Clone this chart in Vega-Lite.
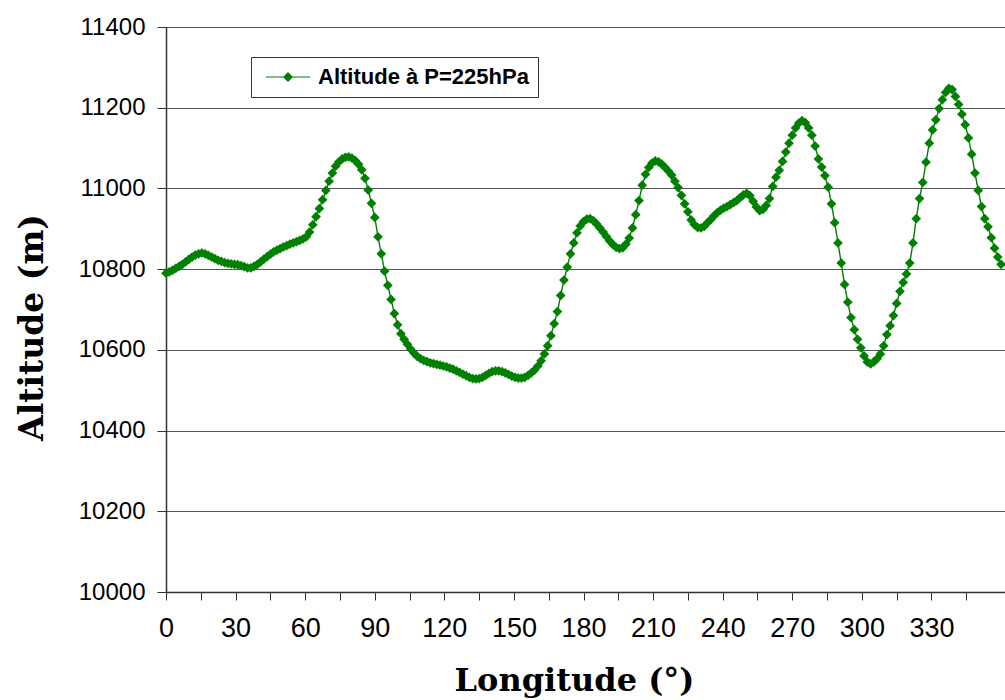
{
  "$schema": "https://vega.github.io/schema/vega-lite/v6.json",
  "width": 839,
  "height": 565,
  "autosize": {"type": "none"},
  "padding": {"left": 166, "top": 27, "right": 0, "bottom": 108},
  "background": "white",
  "config": {"view": {"stroke": null}},
  "data": {"values": [
    {"lon":0,"alt":10790},{"lon":1.40625,"alt":10793},{"lon":2.8125,"alt":10797},{"lon":4.21875,"alt":10802},{"lon":5.625,"alt":10807},{"lon":7.03125,"alt":10812},{"lon":8.4375,"alt":10818},{"lon":9.84375,"alt":10824},
    {"lon":11.25,"alt":10830},{"lon":12.65625,"alt":10835},{"lon":14.0625,"alt":10838},{"lon":15.46875,"alt":10840},{"lon":16.875,"alt":10838},{"lon":18.28125,"alt":10834},{"lon":19.6875,"alt":10830},{"lon":21.09375,"alt":10826},
    {"lon":22.5,"alt":10822},{"lon":23.90625,"alt":10819},{"lon":25.3125,"alt":10816},{"lon":26.71875,"alt":10814},{"lon":28.125,"alt":10813},{"lon":29.53125,"alt":10812},{"lon":30.9375,"alt":10811},{"lon":32.34375,"alt":10809},
    {"lon":33.75,"alt":10806},{"lon":35.15625,"alt":10803},{"lon":36.5625,"alt":10803},{"lon":37.96875,"alt":10807},{"lon":39.375,"alt":10812},{"lon":40.78125,"alt":10818},{"lon":42.1875,"alt":10825},{"lon":43.59375,"alt":10831},
    {"lon":45,"alt":10837},{"lon":46.40625,"alt":10843},{"lon":47.8125,"alt":10847},{"lon":49.21875,"alt":10851},{"lon":50.625,"alt":10855},{"lon":52.03125,"alt":10858},{"lon":53.4375,"alt":10862},{"lon":54.84375,"alt":10865},
    {"lon":56.25,"alt":10868},{"lon":57.65625,"alt":10871},{"lon":59.0625,"alt":10875},{"lon":60.46875,"alt":10880},{"lon":61.875,"alt":10892},{"lon":63.28125,"alt":10910},{"lon":64.6875,"alt":10930},{"lon":66.09375,"alt":10950},
    {"lon":67.5,"alt":10972},{"lon":68.90625,"alt":10995},{"lon":70.3125,"alt":11018},{"lon":71.71875,"alt":11038},{"lon":73.125,"alt":11055},{"lon":74.53125,"alt":11066},{"lon":75.9375,"alt":11073},{"lon":77.34375,"alt":11077},
    {"lon":78.75,"alt":11078},{"lon":80.15625,"alt":11075},{"lon":81.5625,"alt":11069},{"lon":82.96875,"alt":11060},{"lon":84.375,"alt":11046},{"lon":85.78125,"alt":11025},{"lon":87.1875,"alt":10996},{"lon":88.59375,"alt":10963},
    {"lon":90,"alt":10928},{"lon":91.40625,"alt":10880},{"lon":92.8125,"alt":10838},{"lon":94.21875,"alt":10795},{"lon":95.625,"alt":10760},{"lon":97.03125,"alt":10725},{"lon":98.4375,"alt":10690},{"lon":99.84375,"alt":10662},
    {"lon":101.25,"alt":10640},{"lon":102.65625,"alt":10626},{"lon":104.0625,"alt":10614},{"lon":105.46875,"alt":10602},{"lon":106.875,"alt":10592},{"lon":108.28125,"alt":10584},{"lon":109.6875,"alt":10578},{"lon":111.09375,"alt":10574},
    {"lon":112.5,"alt":10571},{"lon":113.90625,"alt":10568},{"lon":115.3125,"alt":10566},{"lon":116.71875,"alt":10564},{"lon":118.125,"alt":10562},{"lon":119.53125,"alt":10560},{"lon":120.9375,"alt":10558},{"lon":122.34375,"alt":10555},
    {"lon":123.75,"alt":10552},{"lon":125.15625,"alt":10548},{"lon":126.5625,"alt":10544},{"lon":127.96875,"alt":10540},{"lon":129.375,"alt":10536},{"lon":130.78125,"alt":10532},{"lon":132.1875,"alt":10529},{"lon":133.59375,"alt":10528},
    {"lon":135,"alt":10529},{"lon":136.40625,"alt":10532},{"lon":137.8125,"alt":10537},{"lon":139.21875,"alt":10542},{"lon":140.625,"alt":10546},{"lon":142.03125,"alt":10548},{"lon":143.4375,"alt":10548},{"lon":144.84375,"alt":10546},
    {"lon":146.25,"alt":10543},{"lon":147.65625,"alt":10539},{"lon":149.0625,"alt":10535},{"lon":150.46875,"alt":10532},{"lon":151.875,"alt":10530},{"lon":153.28125,"alt":10530},{"lon":154.6875,"alt":10532},{"lon":156.09375,"alt":10537},
    {"lon":157.5,"alt":10543},{"lon":158.90625,"alt":10550},{"lon":160.3125,"alt":10560},{"lon":161.71875,"alt":10573},{"lon":163.125,"alt":10590},{"lon":164.53125,"alt":10610},{"lon":165.9375,"alt":10635},{"lon":167.34375,"alt":10665},
    {"lon":168.75,"alt":10695},{"lon":170.15625,"alt":10735},{"lon":171.5625,"alt":10773},{"lon":172.96875,"alt":10805},{"lon":174.375,"alt":10838},{"lon":175.78125,"alt":10865},{"lon":177.1875,"alt":10890},{"lon":178.59375,"alt":10907},
    {"lon":180,"alt":10918},{"lon":181.40625,"alt":10924},{"lon":182.8125,"alt":10925},{"lon":184.21875,"alt":10920},{"lon":185.625,"alt":10912},{"lon":187.03125,"alt":10902},{"lon":188.4375,"alt":10892},{"lon":189.84375,"alt":10881},
    {"lon":191.25,"alt":10870},{"lon":192.65625,"alt":10861},{"lon":194.0625,"alt":10854},{"lon":195.46875,"alt":10851},{"lon":196.875,"alt":10853},{"lon":198.28125,"alt":10862},{"lon":199.6875,"alt":10877},{"lon":201.09375,"alt":10902},
    {"lon":202.5,"alt":10935},{"lon":203.90625,"alt":10970},{"lon":205.3125,"alt":11008},{"lon":206.71875,"alt":11035},{"lon":208.125,"alt":11052},{"lon":209.53125,"alt":11063},{"lon":210.9375,"alt":11068},{"lon":212.34375,"alt":11066},
    {"lon":213.75,"alt":11060},{"lon":215.15625,"alt":11052},{"lon":216.5625,"alt":11043},{"lon":217.96875,"alt":11033},{"lon":219.375,"alt":11018},{"lon":220.78125,"alt":11002},{"lon":222.1875,"alt":10983},{"lon":223.59375,"alt":10962},
    {"lon":225,"alt":10942},{"lon":226.40625,"alt":10922},{"lon":227.8125,"alt":10910},{"lon":229.21875,"alt":10903},{"lon":230.625,"alt":10902},{"lon":232.03125,"alt":10906},{"lon":233.4375,"alt":10915},{"lon":234.84375,"alt":10923},
    {"lon":236.25,"alt":10932},{"lon":237.65625,"alt":10940},{"lon":239.0625,"alt":10946},{"lon":240.46875,"alt":10951},{"lon":241.875,"alt":10955},{"lon":243.28125,"alt":10960},{"lon":244.6875,"alt":10965},{"lon":246.09375,"alt":10970},
    {"lon":247.5,"alt":10977},{"lon":248.90625,"alt":10984},{"lon":250.3125,"alt":10988},{"lon":251.71875,"alt":10982},{"lon":253.125,"alt":10968},{"lon":254.53125,"alt":10954},{"lon":255.9375,"alt":10945},{"lon":257.34375,"alt":10948},
    {"lon":258.75,"alt":10958},{"lon":260.15625,"alt":10975},{"lon":261.5625,"alt":11005},{"lon":262.96875,"alt":11028},{"lon":264.375,"alt":11045},{"lon":265.78125,"alt":11067},{"lon":267.1875,"alt":11090},{"lon":268.59375,"alt":11112},
    {"lon":270,"alt":11132},{"lon":271.40625,"alt":11150},{"lon":272.8125,"alt":11162},{"lon":274.21875,"alt":11168},{"lon":275.625,"alt":11163},{"lon":277.03125,"alt":11150},{"lon":278.4375,"alt":11132},{"lon":279.84375,"alt":11105},
    {"lon":281.25,"alt":11073},{"lon":282.65625,"alt":11053},{"lon":284.0625,"alt":11032},{"lon":285.46875,"alt":11003},{"lon":286.875,"alt":10962},{"lon":288.28125,"alt":10915},{"lon":289.6875,"alt":10865},{"lon":291.09375,"alt":10815},
    {"lon":292.5,"alt":10762},{"lon":293.90625,"alt":10718},{"lon":295.3125,"alt":10680},{"lon":296.71875,"alt":10650},{"lon":298.125,"alt":10626},{"lon":299.53125,"alt":10605},{"lon":300.9375,"alt":10585},{"lon":302.34375,"alt":10570},
    {"lon":303.75,"alt":10565},{"lon":305.15625,"alt":10570},{"lon":306.5625,"alt":10578},{"lon":307.96875,"alt":10590},{"lon":309.375,"alt":10610},{"lon":310.78125,"alt":10638},{"lon":312.1875,"alt":10660},{"lon":313.59375,"alt":10685},
    {"lon":315,"alt":10715},{"lon":316.40625,"alt":10745},{"lon":317.8125,"alt":10767},{"lon":319.21875,"alt":10788},{"lon":320.625,"alt":10815},{"lon":322.03125,"alt":10865},{"lon":323.4375,"alt":10925},{"lon":324.84375,"alt":10975},
    {"lon":326.25,"alt":11015},{"lon":327.65625,"alt":11065},{"lon":329.0625,"alt":11112},{"lon":330.46875,"alt":11145},{"lon":331.875,"alt":11170},{"lon":333.28125,"alt":11198},{"lon":334.6875,"alt":11220},{"lon":336.09375,"alt":11238},
    {"lon":337.5,"alt":11248},{"lon":338.90625,"alt":11245},{"lon":340.3125,"alt":11228},{"lon":341.71875,"alt":11208},{"lon":343.125,"alt":11184},{"lon":344.53125,"alt":11158},{"lon":345.9375,"alt":11125},{"lon":347.34375,"alt":11085},
    {"lon":348.75,"alt":11038},{"lon":350.15625,"alt":10995},{"lon":351.5625,"alt":10955},{"lon":352.96875,"alt":10925},{"lon":354.375,"alt":10905},{"lon":355.78125,"alt":10878},{"lon":357.1875,"alt":10852},{"lon":358.59375,"alt":10830},
    {"lon":360,"alt":10812}
  ]},
  "encoding": {
    "x": {
      "field": "lon", "type": "quantitative",
      "scale": {"domain": [0, 361.7], "nice": false, "zero": false},
      "axis": {
        "title": "Longitude (°)",
        "values": [0,15,30,45,60,75,90,105,120,135,150,165,180,195,210,225,240,255,270,285,300,315,330,345],
        "labelExpr": "datum.value % 30 == 0 ? datum.value : ''",
        "labelFont": "Liberation Sans Narrow, Liberation Sans, sans-serif",
        "labelFontSize": 27,
        "labelColor": "#000000",
        "labelPadding": 15,
        "labelFlush": false,
        "labelOverlap": false,
        "tickSize": 8,
        "tickColor": "#333333",
        "domainColor": "#333333",
        "domainWidth": 1.5,
        "grid": false,
        "titleFont": "DejaVu Serif",
        "titleFontWeight": "bold",
        "titleFontSize": 32,
        "titleColor": "#000000",
        "titleX": 408,
        "titleY": 98,
        "titleAlign": "center",
        "titleAnchor": null,
        "titleBaseline": "alphabetic"
      }
    },
    "y": {
      "field": "alt", "type": "quantitative",
      "scale": {"domain": [10000, 11400], "nice": false, "zero": false},
      "axis": {
        "title": "Altitude (m)",
        "values": [10000,10200,10400,10600,10800,11000,11200,11400],
        "format": "d",
        "labelFont": "Liberation Sans, Arial, sans-serif",
        "labelFontSize": 24,
        "labelColor": "#000000",
        "labelPadding": 12,
        "tickSize": 9,
        "tickColor": "#333333",
        "domainColor": "#333333",
        "domainWidth": 1.5,
        "grid": true,
        "gridColor": "#555555",
        "gridWidth": 1,
        "titleFont": "DejaVu Serif",
        "titleFontWeight": "bold",
        "titleFontSize": 33,
        "titleColor": "#000000",
        "titleAngle": 270,
        "titleX": -124,
        "titleY": 300,
        "titleAlign": "center",
        "titleAnchor": null,
        "titleBaseline": "alphabetic"
      }
    }
  },
  "layer": [
    {
      "mark": {"type": "line", "color": "#008000", "strokeWidth": 1.4}
    },
    {
      "mark": {"type": "point", "shape": "diamond", "filled": true, "size": 95, "opacity": 1},
      "encoding": {
        "color": {
          "datum": "Altitude à P=225hPa",
          "type": "nominal",
          "scale": {"range": ["#008000"]},
          "legend": {
            "title": null,
            "orient": "none",
            "legendX": 85,
            "legendY": 30,
            "symbolType": "M-4.4,-0.12L4.4,-0.12L4.4,0.12L-4.4,0.12Z M0,-1L1,0L0,1L-1,0Z",
            "symbolSize": 100,
            "symbolStrokeWidth": 0.5,
            "symbolOffset": 17,
            "labelOffset": 19,
            "labelFont": "Liberation Sans, Arial, sans-serif",
            "labelFontWeight": "bold",
            "labelFontSize": 22,
            "labelColor": "#000000",
            "labelLimit": 400,
            "padding": 9,
            "strokeColor": "#333333",
            "fillColor": "#ffffff",
            "cornerRadius": 0,
            "encode": {"symbols": {"update": {"fill": {"value": "#008000"}, "stroke": {"value": "#008000"}, "strokeWidth": {"value": 0.5}, "opacity": {"value": 1}}}}
          }
        }
      }
    }
  ]
}
